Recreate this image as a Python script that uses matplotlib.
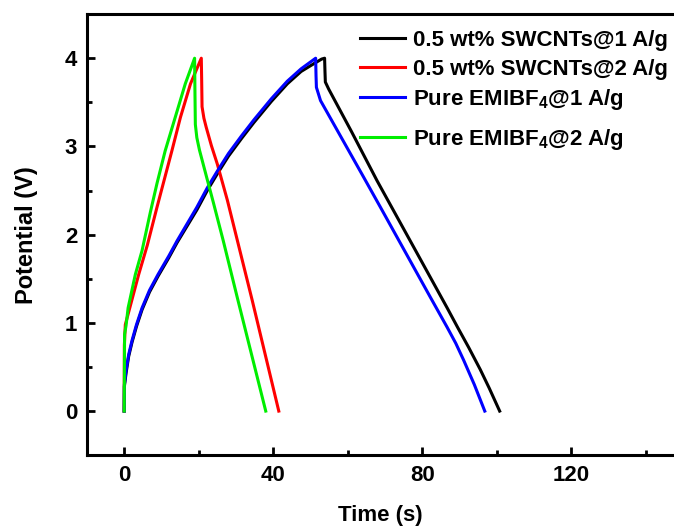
import matplotlib
matplotlib.use("Agg")
import matplotlib.pyplot as plt
from matplotlib.ticker import MultipleLocator

plt.rcParams['font.family'] = ['Liberation Sans', 'DejaVu Sans']
plt.rcParams['font.weight'] = 'bold'
plt.rcParams['mathtext.fontset'] = 'custom'
plt.rcParams['mathtext.rm'] = 'Liberation Sans:bold'
plt.rcParams['mathtext.bf'] = 'Liberation Sans:bold'
plt.rcParams['mathtext.it'] = 'Liberation Sans:bold'
plt.rcParams['mathtext.default'] = 'bf'

# --- data (time s, potential V) ---
swcnt1_t = [0, 0.05, 0.5, 1.2, 2.1, 3.3, 4.8, 6.8, 9.1, 12.0, 14.2, 19.5, 22.3, 25.0, 28.0, 31.5, 34.8,
            39.5, 43.8, 47.5, 51.0, 53.0, 53.8,
            53.9, 54.0, 54.9, 61.0, 67.9, 77.7, 86.7, 89.5, 92.5, 95.6, 98.0, 100.8]
swcnt1_v = [0, 0.28, 0.43, 0.62, 0.78, 0.96, 1.15, 1.35, 1.53, 1.74, 1.91, 2.28, 2.50, 2.69, 2.89, 3.09, 3.27,
            3.51, 3.71, 3.85, 3.94, 3.99, 4.0,
            3.85, 3.73, 3.65, 3.17, 2.61, 1.86, 1.17, 0.95, 0.72, 0.47, 0.26, 0]

swcnt2_t = [0, 0.05, 0.3, 1.5, 3.9, 6.2, 8.8, 10.8, 12.8, 15.1, 17.8, 20.7,
            20.8, 20.9, 21.4, 22.0, 23.4, 25.0, 27.7, 34.4, 41.5]
swcnt2_v = [0, 0.75, 0.98, 1.17, 1.55, 1.88, 2.31, 2.63, 2.95, 3.33, 3.71, 4.0,
            3.75, 3.45, 3.32, 3.22, 3.01, 2.80, 2.39, 1.25, 0]

pure1_t = [0, 0.05, 0.5, 1.2, 2.1, 3.3, 4.8, 6.8, 9.1, 12.0, 14.2, 19.5, 22.3, 25.0, 28.0, 31.5, 34.8,
           39.5, 43.8, 47.5, 51.4,
           51.5, 51.6, 52.7, 64.3, 68.8, 82.2, 86.7, 89.0, 91.1, 94.0, 96.8]
pure1_v = [0, 0.3, 0.46, 0.64, 0.80, 0.98, 1.17, 1.37, 1.55, 1.76, 1.93, 2.31, 2.53, 2.72, 2.92, 3.12, 3.30,
           3.54, 3.74, 3.88, 4.0,
           3.8, 3.67, 3.52, 2.65, 2.31, 1.29, 0.95, 0.77, 0.58, 0.30, 0]

pure2_t = [0, 0.1, 0.5, 1.05, 3.0, 4.8, 7.0, 8.8, 11.0, 13.7, 16.4, 18.9,
           19.0, 19.1, 19.5, 20.2, 21.2, 22.2, 23.9, 26.6, 30.4, 38.0]
pure2_v = [0, 0.87, 0.97, 1.17, 1.55, 1.82, 2.25, 2.58, 2.95, 3.33, 3.71, 4.0,
           3.6, 3.25, 3.10, 2.96, 2.80, 2.64, 2.37, 1.93, 1.28, 0]

labels = ['0.5 wt% SWCNTs@1 A/g', '0.5 wt% SWCNTs@2 A/g',
          'Pure EMIBF$_4$@1 A/g', 'Pure EMIBF$_4$@2 A/g']
colors = ['#000000', '#ff0000', '#0000ff', '#00ee00']

fig = plt.figure(figsize=(6.74, 5.26), dpi=100)
ax = fig.add_axes([0.129, 0.1346, 0.871, 0.8386])

series = [(swcnt1_t, swcnt1_v), (swcnt2_t, swcnt2_v), (pure1_t, pure1_v), (pure2_t, pure2_v)]
handles = []
for (t, v), c, lab in zip(series, colors, labels):
    h, = ax.plot(t, v, color=c, lw=2.2, label=lab, solid_joinstyle='round')
    handles.append(h)

ax.set_xlim(-10, 147.6)
ax.set_ylim(-0.5, 4.5)
ax.xaxis.set_major_locator(MultipleLocator(40))
ax.xaxis.set_minor_locator(MultipleLocator(20))
ax.yaxis.set_major_locator(MultipleLocator(1))
ax.yaxis.set_minor_locator(MultipleLocator(0.5))
ax.tick_params(which='both', direction='in', width=2.0, labelsize=16, pad=7)
ax.tick_params(which='major', length=6)
ax.tick_params(which='minor', length=3.5)
for lab in ax.get_xticklabels() + ax.get_yticklabels():
    lab.set_fontweight('bold')

for s in ['left', 'bottom', 'top']:
    ax.spines[s].set_linewidth(2.2)
ax.spines['right'].set_visible(False)

ax.set_xlabel('Time (s)', fontsize=16, fontweight='bold', labelpad=14)
ax.set_ylabel('Potential (V)', fontsize=17, fontweight='bold', labelpad=19)

leg_kw = dict(loc='upper left', frameon=False, fontsize=16, handlelength=2.03,
              handletextpad=0.36, labelspacing=0.34, borderaxespad=0, borderpad=0)
leg1 = ax.legend(handles[:3], labels[:3], bbox_to_anchor=(0.465, 0.964), **leg_kw)
ax.add_artist(leg1)
leg2 = ax.legend(handles[3:], labels[3:], bbox_to_anchor=(0.465, 0.744), **leg_kw)
for lg in (leg1, leg2):
    for txt in lg.get_texts():
        txt.set_fontweight('bold')

fig.savefig('out.png', dpi=100)
